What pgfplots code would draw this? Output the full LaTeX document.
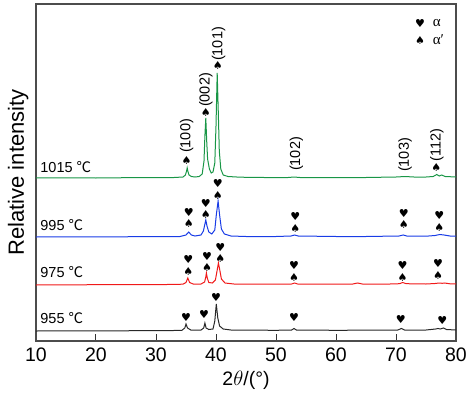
\documentclass[border=0pt]{standalone}
\usepackage{pgfplots}
\pgfplotsset{compat=1.18}
\usepackage{fontspec}
\setmainfont{Liberation Sans}
\newfontfamily\symfont{DejaVu Sans}
\newfontfamily\cjk{Noto Sans CJK SC}
\newfontfamily\greekfont{Liberation Serif}
\definecolor{cgreen}{RGB}{25,150,70}
\definecolor{cblue}{RGB}{25,60,230}
\definecolor{cred}{RGB}{240,25,25}
\definecolor{cblack}{RGB}{40,40,40}
\newcommand{\degc}{ {\cjk ℃}}
\begin{document}
\begin{tikzpicture}
\begin{axis}[
  scale only axis, width=420pt, height=337pt,
  xmin=10, xmax=80, ymin=0, ymax=337,
  xtick={10,20,...,80}, ytick=\empty,
  xtick pos=bottom, tick align=inside,
  major tick length=7pt,
  axis line style={draw=black!70, line width=1.1pt},
  tick style={black!80, line width=1pt},
  /pgf/number format/assume math mode=true,
  ticklabel style={font=\fontsize{19.5}{20}\selectfont},
  xticklabel style={yshift=-3pt},
  xlabel={2$\theta$/(°)},
  xlabel style={font=\fontsize{19.5}{20}\selectfont, yshift=-3pt},
  ylabel={Relative intensity},
  ylabel style={font=\fontsize{22}{24}\selectfont, yshift=4pt},
  clip=false,
]
% green 1015
\addplot[cgreen, line width=1pt, mark=none] coordinates {
(10,163) (15,163.2) (20,163) (25,163.3) (30,163.3) (33,163.5) (34.5,164) (34.9,166) (35.1,170) (35.2,173) (35.3,170) (35.5,166) (35.9,164.5) (36.5,164) (37.2,164.5) (37.7,167) (38.0,180) (38.15,205) (38.3,223) (38.45,200) (38.6,182) (38.9,172) (39.2,168) (39.5,169) (39.8,178) (40.0,215) (40.2,268) (40.4,225) (40.55,190) (40.8,172) (41.2,166) (42,164.5) (44,163.8) (48,163.5) (52,163.5) (53,164) (54,163.5) (60,163.5) (65,163.5) (70,164) (71.5,164.5) (73,164) (75,164) (76.2,164.5) (76.8,166.5) (77.2,165) (77.6,166) (78.2,164.5) (80,164)};
% blue 995
\addplot[cblue, line width=1pt, mark=none] coordinates {
(10,104) (20,104.2) (30,104.3) (34,104.5) (35,106) (35.45,109) (35.9,106) (36.5,105) (37.5,106) (37.9,110) (38.15,117) (38.3,121) (38.5,115) (38.8,109) (39.3,107) (39.8,111) (40.05,126) (40.35,140) (40.6,126) (40.9,112) (41.4,107) (42.5,105) (45,104.5) (50,104.5) (52.5,105) (53.1,106) (53.7,105) (60,104.5) (65,104.5) (70.5,105) (71.2,106) (71.8,105) (75,104.8) (76.5,105.5) (77.3,106.5) (78,106) (79,105) (80,104.8)};
% red 975
\addplot[cred, line width=1pt, mark=none] coordinates {
(10,56) (20,56.3) (30,56.3) (34.5,56.8) (35.0,58.5) (35.3,63) (35.6,58.5) (36.2,57) (37.5,57) (38.1,59) (38.3,64) (38.4,68) (38.55,63) (38.8,58.5) (39.4,58) (39.9,61) (40.2,71) (40.4,78) (40.6,72) (40.9,62) (41.5,58) (43,57) (50,56.8) (52.6,57) (53.1,58) (53.6,57) (60,56.8) (62.8,57) (63.6,58) (64.4,57) (69,57) (70.6,57.3) (71.1,58.5) (71.7,57.3) (75,57) (76.5,57.5) (77.2,58) (77.7,57.7) (78.1,58) (79,57.2) (80,57)};
% black 955
\addplot[cblack, line width=1pt, mark=none] coordinates {
(10,10) (20,10.2) (30,10.3) (34.3,10.6) (34.8,13) (35.0,17) (35.25,13) (35.8,11) (37.5,11) (37.95,13) (38.15,18) (38.35,13) (38.8,11.5) (39.5,12) (39.8,20) (40.05,37) (40.3,23) (40.6,15) (41.2,12) (42.5,11) (50,10.7) (52.6,11) (53.0,12.5) (53.4,11) (60,10.7) (70.3,11) (70.9,12.5) (71.4,11) (75,11) (76.6,12) (77.0,12.5) (77.4,12) (77.9,13) (78.4,11.5) (80,11)};
% phase symbols
\addplot[draw=none, mark=none, nodes near coords, point meta=explicit symbolic,
  nodes near coords style={anchor=center, inner sep=0pt, font=\symfont\fontsize{11}{11}\selectfont}]
table[meta=s] {
x y s
35.1 181 ♠
38.3 229 ♠
40.3 276 ♠
76.7 174 ♠
40.3 158 ♥
40.3 146 ♠
35.45 129 ♥
35.45 118 ♠
38.3 138 ♥
38.3 127 ♠
53.2 125 ♥
53.2 113 ♠
71.3 128 ♥
71.3 117 ♠
77.2 126 ♥
77.2 114 ♠
35.4 82 ♥
35.4 70 ♠
38.5 85 ♥
38.5 74 ♠
40.7 94 ♥
40.7 83 ♠
53.0 76 ♥
53.0 64 ♠
71.1 76 ♥
71.1 64 ♠
77.0 78 ♥
77.0 66 ♠
35.0 24 ♥
38.0 27 ♥
40.0 44 ♥
53.0 24 ♥
70.8 22 ♥
77.7 21 ♥
74.0 318 ♥
74.0 301 ♠
};
% Miller indices
\addplot[draw=none, mark=none, nodes near coords, point meta=explicit symbolic,
  nodes near coords style={anchor=center, rotate=90, inner sep=0pt, font=\fontsize{14.5}{15}\selectfont}]
table[meta=s] {
x y s
35.1 205 (100)
38.3 251 (002)
40.45 297 (101)
53.4 187 (102)
71.5 186 (103)
76.8 196 (112)
};
\node[anchor=west, inner sep=0pt, font=\greekfont\fontsize{15}{15}\selectfont] at (axis cs:76.1,318) {α};
\node[anchor=west, inner sep=0pt, font=\greekfont\fontsize{15}{15}\selectfont] at (axis cs:76.1,301) {α′};
\node[anchor=west, inner sep=0pt, font=\fontsize{14.5}{15}\selectfont] at (axis cs:10.7,174) {1015\degc};
\node[anchor=west, inner sep=0pt, font=\fontsize{14.5}{15}\selectfont] at (axis cs:10.7,116) {995\degc};
\node[anchor=west, inner sep=0pt, font=\fontsize{14.5}{15}\selectfont] at (axis cs:10.7,69) {975\degc};
\node[anchor=west, inner sep=0pt, font=\fontsize{14.5}{15}\selectfont] at (axis cs:10.7,23) {955\degc};
\end{axis}
\pgfresetboundingbox
\useasboundingbox (-36pt,-56pt) rectangle (437pt,341pt);
\end{tikzpicture}
\end{document}
